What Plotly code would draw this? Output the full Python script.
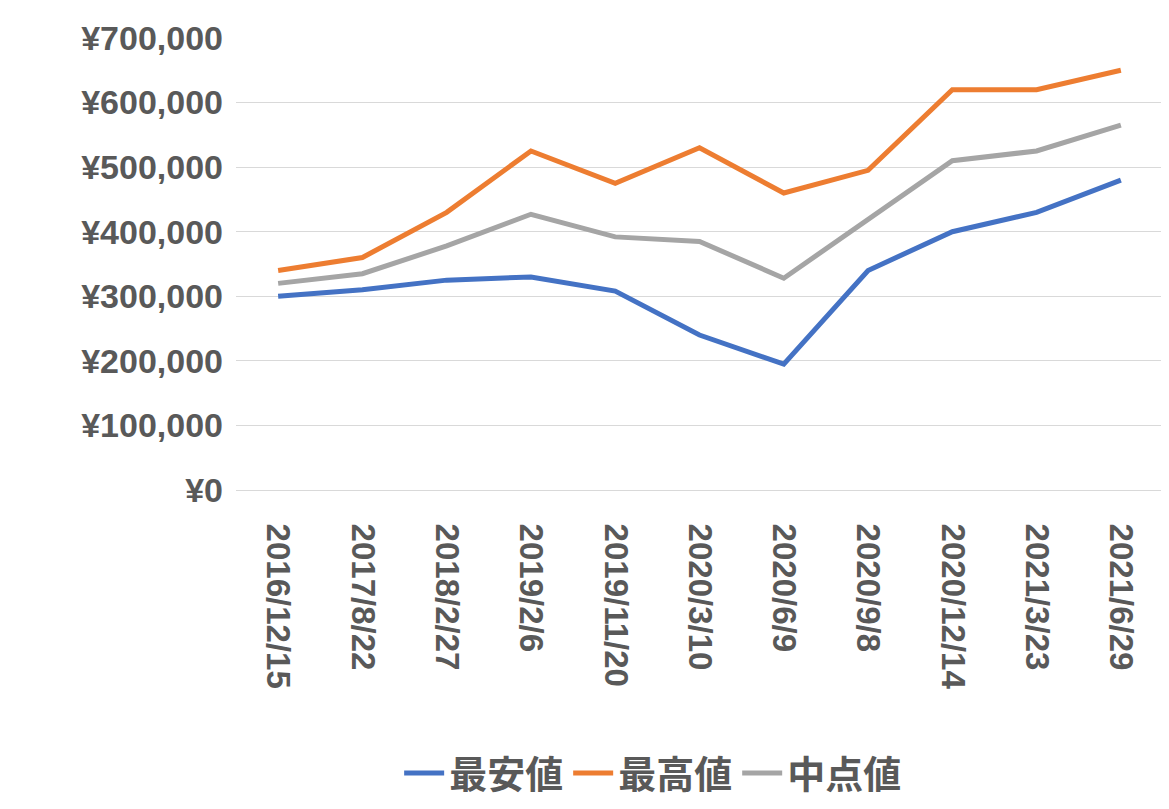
import plotly.graph_objects as go

dates = ["2016/12/15","2017/8/22","2018/2/27","2019/2/6","2019/11/20","2020/3/10",
         "2020/6/9","2020/9/8","2020/12/14","2021/3/23","2021/6/29"]
low = [300000,310000,325000,330000,308000,240000,195000,340000,400000,430000,480000]
high = [340000,360000,430000,525000,475000,530000,460000,495000,620000,620000,650000]
mid = [320000,335000,378000,427000,392000,385000,328000,418000,510000,525000,565000]

fig = go.Figure()
for name, vals, col in [("最安値", low, "#4472C4"), ("最高値", high, "#ED7D31"), ("中点値", mid, "#A5A5A5")]:
    fig.add_trace(go.Scatter(x=dates, y=vals, name=name, mode="lines",
                             line=dict(color=col, width=5)))

fig.update_layout(
    width=1169, height=809, plot_bgcolor="white", paper_bgcolor="white",
    margin=dict(l=228, r=14, t=30, b=321),
    font=dict(family="Noto Sans CJK JP, Liberation Sans", color="#595959"),
    xaxis=dict(type="category", tickangle=90, showgrid=False, showline=True,
               linecolor="#D9D9D9", ticks="", range=[-0.5, 10.5], automargin=False,
               ticklabelstandoff=26,
               tickfont=dict(size=33, family="Liberation Sans", color="#595959", weight="bold")),
    yaxis=dict(range=[0, 700000], dtick=100000, tickprefix="¥", tickformat=",",
               gridcolor="#D9D9D9", zeroline=False, ticks="", automargin=False,
               ticklabelstandoff=12,
               tickfont=dict(size=34, family="Liberation Sans", color="#595959", weight="bold")),
    legend=dict(orientation="h", x=0.45, xanchor="center", y=-0.627, yanchor="middle",
                font=dict(size=38, color="#595959", weight="bold"), itemwidth=40),
    showlegend=True,
)
fig.write_html("out.html")
